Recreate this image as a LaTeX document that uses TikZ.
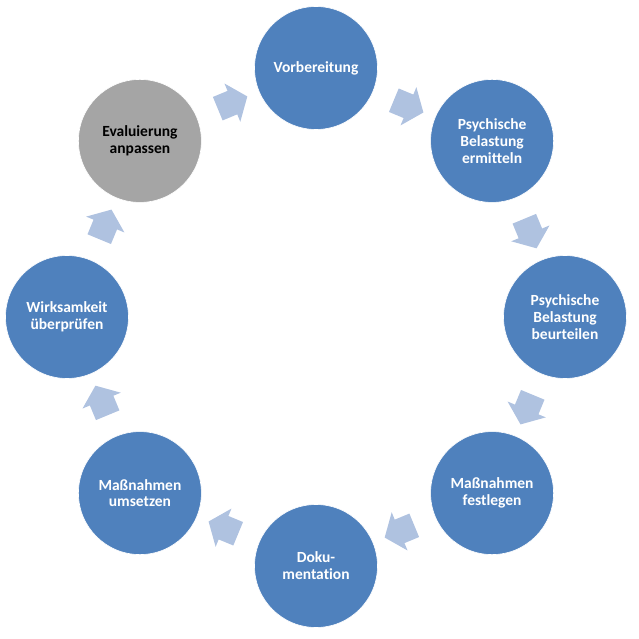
\documentclass[tikz,border=0pt]{standalone}
\usepackage{fontspec}
\setmainfont{Carlito}[Ligatures=NoCommon]
\usetikzlibrary{positioning,shapes.arrows}
\definecolor{kreisblau}{HTML}{4F81BD}
\definecolor{pfeilblau}{HTML}{AFC2E0}
\definecolor{kreisgrau}{HTML}{A5A5A5}
\tikzset{
  kreis/.style = {circle, align=center, inner sep=0pt, minimum size=123pt,
    fill=kreisblau, draw=white, line width=0.6pt, text=white,
    font=\fontsize{15.5}{16.8}\selectfont\bfseries},
  grau/.style = {kreis, fill=kreisgrau, text=black},
  pfeil/.style = {single arrow, fill=pfeilblau, draw=none,
    inner xsep=0pt, inner ysep=12.5pt, minimum height=32pt,
    single arrow head extend=8pt, single arrow tip angle=104,
    sloped, allow upside down}
}

\begin{document}
\begin{tikzpicture}
\useasboundingbox (-316pt,-322pt) rectangle (323pt,317pt);
\node [kreis] (vorb)  at (90:249pt)   {Vorbereitung};
\node [kreis] (ermit) at (45:249pt)   {Psychische\\Belastung\\ermitteln};
\node [kreis] (beurt) at (0:249pt)    {Psychische\\Belastung\\beurteilen};
\node [kreis] (festl) at (-45:249pt)  {Maßnahmen\\festlegen};
\node [kreis] (doku)  at (-90:249pt)  {Doku-\\mentation};
\node [kreis] (umset) at (-135:249pt) {Maßnahmen\\umsetzen};
\node [kreis] (wirks) at (180:249pt)  {Wirksamkeit\\überprüfen};
\node [grau]  (evalu) at (135:249pt)  {Evaluierung\\anpassen};

\foreach \a/\b in {vorb/ermit, ermit/beurt, beurt/festl, festl/doku,
                   doku/umset, umset/wirks, wirks/evalu, evalu/vorb}
  \path (\a) -- node[pfeil] {} (\b);
\end{tikzpicture}
\end{document}
